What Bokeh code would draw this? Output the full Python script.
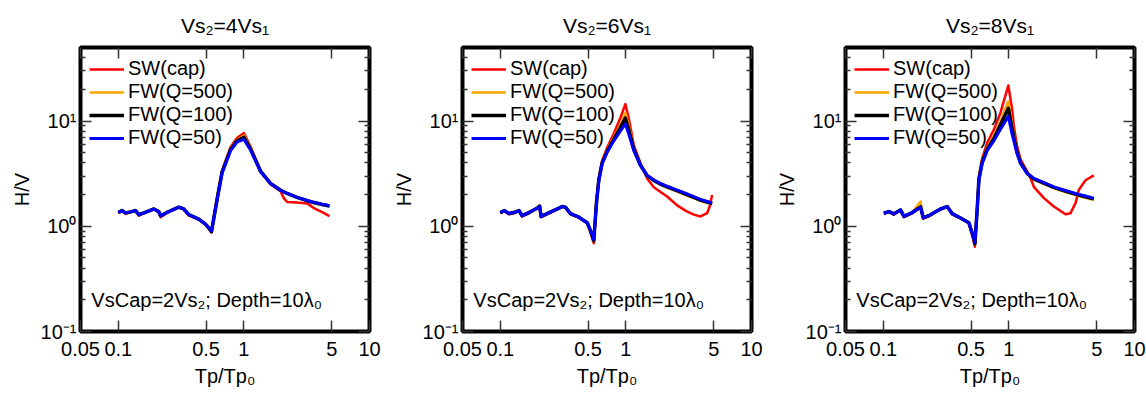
from bokeh.plotting import figure
from bokeh.layouts import row
from bokeh.models import LogAxis, FixedTicker, Legend, LegendItem, Label, Range1d
from bokeh.embed import file_html
from bokeh.resources import INLINE

FONT = "Liberation Sans"

titles = ["Vs₂=4Vs₁", "Vs₂=6Vs₁", "Vs₂=8Vs₁"]
series_names = ["SW(cap)", "FW(Q=500)", "FW(Q=100)", "FW(Q=50)"]
series_colors = ["#FF0000", "#FFA500", "#000000", "#0000FF"]
series_widths = [2.5, 2.5, 3.5, 3.0]
note_text = "VsCap=2Vs₂; Depth=10λ₀"

x_ticks = [0.05, 0.1, 0.5, 1, 5, 10]
x_tick_labels = ["0.05", "0.1", "0.5", "1", "5", "10"]
y_ticks = [0.1, 1, 10]
y_tick_labels = ["10⁻¹", "10⁰", "10¹"]
y_minor = [0.2, 0.3, 0.4, 0.5, 0.6, 0.7, 0.8, 0.9, 2, 3, 4, 5, 6, 7, 8, 9, 20, 30, 40]

# Panel 1: Vs2 = 4 Vs1
p1_x = [0.100, 0.107, 0.114, 0.125, 0.137, 0.146, 0.160, 0.192, 0.210, 0.217,
        0.252, 0.303, 0.332, 0.364, 0.437, 0.494, 0.530, 0.552, 0.580, 0.615,
        0.670, 0.780, 0.880, 1.000, 1.130, 1.360, 1.630, 1.960, 2.080, 2.210,
        2.650, 3.190, 3.600, 4.200, 4.800]
p1_sw = [1.33, 1.40, 1.31, 1.36, 1.40, 1.26, 1.33, 1.45, 1.36, 1.22,
         1.37, 1.51, 1.45, 1.27, 1.16, 1.04, 0.94, 0.87, 1.30, 1.95,
         3.40, 5.60, 6.90, 7.70, 5.70, 3.35, 2.50, 2.15, 1.85, 1.70,
         1.68, 1.65, 1.49, 1.36, 1.25]
p1_q500 = [1.35, 1.41, 1.34, 1.37, 1.41, 1.29, 1.34, 1.46, 1.38, 1.26,
           1.38, 1.52, 1.46, 1.29, 1.17, 1.05, 0.95, 0.88, 1.26, 1.88,
           3.28, 5.40, 6.60, 7.30, 5.50, 3.34, 2.56, 2.19, 2.11, 2.04,
           1.87, 1.74, 1.67, 1.60, 1.55]
p1_q100 = [1.35, 1.41, 1.34, 1.37, 1.41, 1.29, 1.34, 1.46, 1.38, 1.26,
           1.38, 1.52, 1.46, 1.29, 1.17, 1.05, 0.95, 0.89, 1.25, 1.87,
           3.25, 5.30, 6.45, 7.00, 5.40, 3.32, 2.56, 2.20, 2.12, 2.05,
           1.88, 1.75, 1.68, 1.61, 1.56]
p1_q50 = [1.35, 1.41, 1.34, 1.37, 1.41, 1.29, 1.34, 1.46, 1.38, 1.26,
          1.38, 1.52, 1.46, 1.29, 1.17, 1.05, 0.96, 0.90, 1.25, 1.85,
          3.20, 5.20, 6.30, 6.70, 5.30, 3.30, 2.55, 2.20, 2.12, 2.05,
          1.88, 1.76, 1.69, 1.62, 1.57]

# Panel 2: Vs2 = 6 Vs1
p2_x = [0.100, 0.108, 0.117, 0.128, 0.141, 0.149, 0.169, 0.197, 0.206, 0.211,
        0.243, 0.311, 0.330, 0.362, 0.422, 0.492, 0.520, 0.555, 0.583, 0.609,
        0.647, 0.709, 0.801, 0.906, 0.990, 1.055, 1.156, 1.307, 1.476, 1.668,
        1.885, 2.130, 2.560, 3.000, 3.470, 3.930, 4.430, 4.650, 4.860]
p2_sw = [1.33, 1.40, 1.30, 1.33, 1.40, 1.24, 1.33, 1.48, 1.58, 1.22,
         1.32, 1.53, 1.51, 1.30, 1.21, 1.07, 0.90, 0.69, 1.75, 2.90,
         4.20, 5.60, 7.60, 10.80, 14.50, 10.50, 5.90, 3.95, 2.85, 2.35,
         2.12, 1.92, 1.58, 1.40, 1.29, 1.24, 1.33, 1.55, 1.98]
p2_q500 = [1.35, 1.41, 1.32, 1.35, 1.41, 1.26, 1.35, 1.49, 1.56, 1.24,
           1.34, 1.54, 1.52, 1.32, 1.22, 1.08, 0.91, 0.72, 1.70, 2.82,
           4.05, 5.30, 7.00, 9.30, 12.00, 9.00, 5.60, 3.80, 3.00, 2.70,
           2.48, 2.33, 2.14, 1.98, 1.85, 1.74, 1.67, 1.64, 1.62]
p2_q100 = [1.35, 1.41, 1.32, 1.35, 1.41, 1.26, 1.35, 1.49, 1.55, 1.24,
           1.34, 1.54, 1.52, 1.32, 1.22, 1.08, 0.92, 0.73, 1.68, 2.78,
           4.00, 5.15, 6.70, 8.70, 10.70, 8.20, 5.40, 3.80, 3.03, 2.73,
           2.52, 2.37, 2.18, 2.02, 1.88, 1.77, 1.70, 1.67, 1.64]
p2_q50 = [1.35, 1.41, 1.32, 1.35, 1.41, 1.26, 1.35, 1.49, 1.54, 1.24,
          1.34, 1.54, 1.52, 1.32, 1.22, 1.08, 0.93, 0.75, 1.66, 2.74,
          3.93, 5.05, 6.49, 8.06, 9.40, 7.50, 5.23, 3.79, 3.05, 2.75,
          2.55, 2.40, 2.21, 2.05, 1.91, 1.80, 1.72, 1.69, 1.66]

# Panel 3: Vs2 = 8 Vs1
p3_x = [0.101, 0.111, 0.121, 0.137, 0.146, 0.170, 0.198, 0.208, 0.230, 0.285,
        0.323, 0.353, 0.412, 0.480, 0.520, 0.536, 0.559, 0.577, 0.612, 0.671,
        0.759, 0.857, 0.990, 1.060, 1.094, 1.160, 1.240, 1.400, 1.490, 1.580,
        1.900, 2.280, 2.820, 3.090, 3.390, 3.600, 4.070, 4.740]
p3_sw = [1.31, 1.37, 1.29, 1.42, 1.22, 1.33, 1.51, 1.18, 1.24, 1.45,
         1.53, 1.30, 1.19, 1.07, 0.75, 0.64, 1.55, 2.95, 4.40, 6.20,
         8.30, 12.00, 21.80, 13.00, 9.00, 5.80, 4.30, 3.30, 2.85, 2.37,
         1.85, 1.54, 1.30, 1.33, 1.66, 2.21, 2.74, 3.05]
p3_q500 = [1.33, 1.38, 1.31, 1.43, 1.24, 1.35, 1.72, 1.20, 1.26, 1.46,
           1.54, 1.32, 1.20, 1.08, 0.79, 0.67, 1.47, 2.86, 4.15, 5.60,
           7.20, 10.00, 15.40, 9.50, 7.50, 5.30, 4.05, 3.15, 2.95, 2.78,
           2.52, 2.30, 2.12, 2.05, 1.98, 1.94, 1.87, 1.78]
p3_q100 = [1.33, 1.38, 1.31, 1.43, 1.24, 1.35, 1.53, 1.20, 1.26, 1.46,
           1.54, 1.32, 1.20, 1.08, 0.80, 0.68, 1.45, 2.80, 4.05, 5.40,
           6.80, 9.20, 13.20, 8.50, 7.00, 5.10, 4.00, 3.18, 2.98, 2.82,
           2.57, 2.34, 2.16, 2.09, 2.02, 1.98, 1.91, 1.82]
p3_q50 = [1.33, 1.38, 1.31, 1.43, 1.24, 1.35, 1.52, 1.20, 1.26, 1.46,
          1.54, 1.32, 1.20, 1.08, 0.81, 0.70, 1.43, 2.74, 3.93, 5.23,
          6.49, 8.36, 11.10, 7.50, 6.50, 4.90, 3.93, 3.17, 3.00, 2.85,
          2.60, 2.37, 2.19, 2.12, 2.05, 2.01, 1.94, 1.85]

panels = [
    (titles[0], p1_x, [p1_sw, p1_q500, p1_q100, p1_q50]),
    (titles[1], p2_x, [p2_sw, p2_q500, p2_q100, p2_q50]),
    (titles[2], p3_x, [p3_sw, p3_q500, p3_q100, p3_q50]),
]

TICK_COLOR = "#333333"
FRAME_W = 289
FRAME_H = 284


def style_axis(ax, ticker, overrides, show_labels):
    ax.ticker = ticker
    ax.axis_line_color = None
    ax.major_tick_in = 11
    ax.major_tick_out = 0
    ax.minor_tick_in = 5
    ax.minor_tick_out = 0
    ax.major_tick_line_color = TICK_COLOR
    ax.minor_tick_line_color = TICK_COLOR
    ax.major_tick_line_width = 1.5
    ax.minor_tick_line_width = 1.5
    ax.major_label_text_font = FONT
    if show_labels:
        ax.major_label_overrides = overrides
        ax.major_label_text_font_size = "20px"
        ax.major_label_text_color = "black"
        ax.axis_label_text_font = FONT
        ax.axis_label_text_font_size = "20px"
        ax.axis_label_text_font_style = "normal"
        ax.axis_label_text_color = "black"
    else:
        ax.major_label_overrides = {t: " " for t in ticker.ticks}
        ax.major_label_text_font_size = "2px"
        ax.major_label_text_color = None
        ax.major_label_standoff = 0


def make_panel(title, xs, ys, left, right):
    p = figure(frame_width=FRAME_W, frame_height=FRAME_H,
               x_axis_type="log", y_axis_type="log",
               x_range=Range1d(0.05, 10), y_range=Range1d(0.1, 50),
               output_backend="svg", toolbar_location=None,
               min_border_left=left, min_border_right=right,
               min_border_top=47, min_border_bottom=62)
    p.title.text = title
    p.title.align = "center"
    p.title.text_font = FONT
    p.title.text_font_size = "21px"
    p.title.text_font_style = "normal"
    p.title.text_color = "black"
    p.title.standoff = 22
    p.xgrid.visible = False
    p.ygrid.visible = False
    p.outline_line_color = "black"
    p.outline_line_width = 4
    p.background_fill_color = "white"

    xt = FixedTicker(ticks=x_ticks, minor_ticks=[])
    yt = FixedTicker(ticks=y_ticks, minor_ticks=y_minor)
    xo = dict(zip(x_ticks, x_tick_labels))
    yo = dict(zip(y_ticks, y_tick_labels))

    style_axis(p.xaxis[0], xt, xo, True)
    p.xaxis[0].axis_label = "Tp/Tp₀"
    p.xaxis[0].major_label_standoff = 10
    p.xaxis[0].axis_label_standoff = 6
    style_axis(p.yaxis[0], yt, yo, True)
    p.yaxis[0].axis_label = "H/V"
    p.yaxis[0].major_label_standoff = 4
    p.yaxis[0].axis_label_standoff = 5

    top = LogAxis()
    style_axis(top, xt, xo, False)
    p.add_layout(top, "above")
    rgt = LogAxis()
    style_axis(rgt, yt, yo, False)
    p.add_layout(rgt, "right")

    items = []
    for name, color, lw, y in zip(series_names, series_colors, series_widths, ys):
        r = p.line(xs, y, line_color=color, line_width=lw, line_join="round")
        items.append(LegendItem(label=name, renderers=[r]))

    legend = Legend(items=items, location=(9, 182), margin=0, padding=9,
                    spacing=0, label_height=22, glyph_height=22, glyph_width=35,
                    label_standoff=4, label_text_font=FONT,
                    label_text_font_size="20px", label_text_color="black",
                    border_line_color=None, background_fill_alpha=0)
    p.add_layout(legend)

    p.add_layout(Label(x=0.061, y=0.2, text=note_text, text_font=FONT,
                       text_font_size="20px", text_baseline="middle",
                       text_color="black"))
    return p


figs = []
borders = [(80, 13), (80, 13), (81, 12)]
for (title, xs, ys), (l, r) in zip(panels, borders):
    figs.append(make_panel(title, xs, ys, l, r))

layout = row(*figs)
open("out.html", "w").write(file_html(layout, INLINE))
